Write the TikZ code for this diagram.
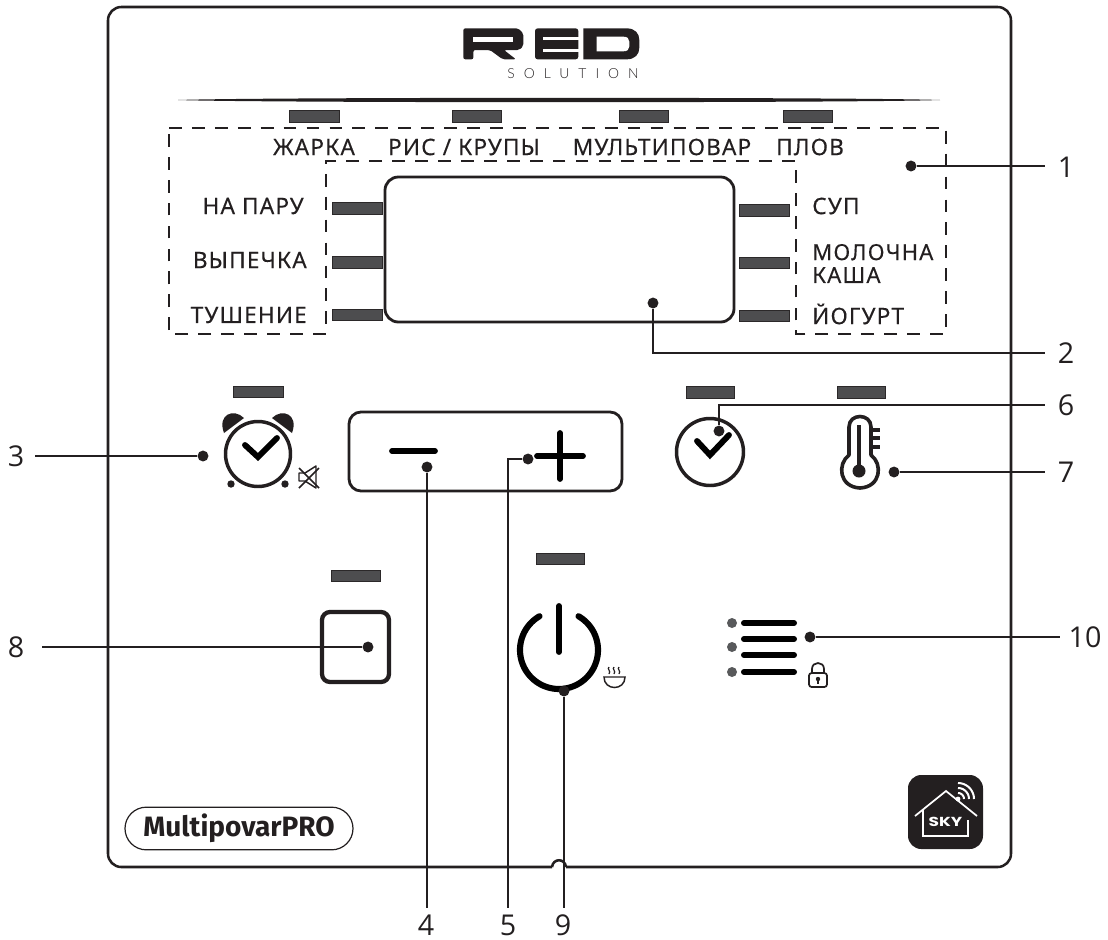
\documentclass[tikz,border=0pt]{standalone}
\usepackage{fontspec}
\setmainfont[LetterSpace=5,FakeBold=0.25]{Noto Sans}
\newfontfamily\numfont{Open Sans}
\newfontfamily\mpfont{Fira Sans}
\newfontfamily\skyfont{Poppins}
\newfontfamily\solfont[LetterSpace=65,UprightFont=* Light]{Lato}
\definecolor{ink}{HTML}{231F20}
\definecolor{led}{HTML}{4D4D4F}
\definecolor{greydot}{HTML}{58595B}
\tikzset{
  ledbar/.style={draw=ink!80!led,line width=0.4pt,fill=led},
  pt/.style={circle,fill=ink,inner sep=0pt,minimum size=8.2pt},
  lead/.style={draw=ink,line width=1pt},
  numlab/.style={font=\numfont\fontsize{21.5}{24}\selectfont,text=ink,inner sep=0pt},
  modelab/.style={font=\fontsize{17}{18}\selectfont,text=ink,inner sep=0pt},
  greyd/.style={circle,fill=greydot,inner sep=0pt,minimum size=7.5pt}
}
\begin{document}
\begin{tikzpicture}[x=0.75pt,y=-0.75pt]
\useasboundingbox (0,0) rectangle (1108,940);
% case with notch
\draw[ink,line width=1.9pt,rounded corners=10pt] (552,867) -- (108,867) -- (108,7) -- (1011,7) -- (1011,867) -- (566,867);
\draw[ink,line width=1.9pt] (566,867) .. controls (565,858) and (553,858) .. (552,867);
% logo
\begin{scope}[shift={(440,10)},x=0.25pt,y=-0.25pt]
\fill[ink,rounded corners=1.5pt] (70,55) -- (235,55) -- (250,70) -- (250,108) -- (238,120) -- (192,120) -- (228,148) -- (188,148) -- (150,120) -- (100,120) -- (100,148) -- (70,148) -- cycle;
\fill[white] (100,80) rectangle (220,96);
\fill[ink,rounded corners=2pt] (285,55) -- (415,55) -- (415,148) -- (285,148) -- cycle;
\fill[white] (310,80) rectangle (416,91);
\fill[white] (310,116) rectangle (416,125);
\fill[ink] (430,55) -- (560,55) .. controls (585,55) and (598,70) .. (598,90) -- (598,113) .. controls (598,133) and (585,148) .. (560,148) -- (430,148) -- cycle;
\fill[white] (470,80) -- (550,80) .. controls (562,80) and (568,86) .. (568,95) -- (568,109) .. controls (568,118) and (562,124) .. (550,124) -- (470,124) -- cycle;
\end{scope}
\node[font=\solfont\fontsize{10.4}{12}\selectfont,text=ink,inner sep=0pt] (solution) at (573,74) {SOLUTION};
\fill[ink] (178,100) .. controls (260,97.1) and (860,97.1) .. (940,100) .. controls (860,102.9) and (260,102.9) .. (178,100) -- cycle;
% dashed frame
\draw[ink,line width=1.8pt,dash pattern=on 9.6pt off 7.6pt] (169,128) -- (946,128) -- (946,334) -- (796,334) -- (796,161) -- (326,161) -- (326,334) -- (169,334) -- cycle;
% leds
\foreach \a/\b/\c/\d in {289/110/339/122,452/110/501/122,619/110/668/122,783/110/832/122,
  332/202/382/214,332/256/382/268,332/309/382/320,739/204/789/216,739/257/789/268,739/310/789/321,
  233/386/283/397,686/386/734/398,837/386/885/398,331/570/380/581,536/553/584/564}
  \draw[ledbar] (\a,\b) rectangle (\c,\d);
% screen
\draw[ink,line width=2.1pt,rounded corners=10pt] (385,177) rectangle (734,322);
% mode labels
\node[modelab] (m1) at (314,147) {ЖАРКА};
\node[modelab] (m2) at (464,147) {РИС / КРУПЫ};
\node[modelab] (m3) at (662,147) {МУЛЬТИПОВАР};
\node[modelab] (m4) at (810,147) {ПЛОВ};
\node[modelab,anchor=east] (m5) at (304,206) {НА ПАРУ};
\node[modelab,anchor=east] (m6) at (307,260) {ВЫПЕЧКА};
\node[modelab,anchor=east] (m7) at (307,315) {ТУШЕНИЕ};
\node[modelab,anchor=west] (m8) at (812,206) {СУП};
\node[modelab,anchor=west,align=left,font=\fontsize{16.6}{17.2}\selectfont] (m9) at (812,263.5) {МОЛОЧНА\\КАША};
\node[modelab,anchor=west] (m10) at (812,314) {ЙОГУРТ};
% alarm clock
\draw[ink,line width=2.6pt] (258,454) circle [radius=32.5];
\draw[black,line width=4.4pt,line cap=round,line join=miter] (245,445) -- (258,457) -- (277,438);
\fill[ink] (224,433) .. controls (217,414) and (234,408) .. (244,418) -- cycle;
\fill[ink] (292,433) .. controls (299,414) and (282,408) .. (272,418) -- cycle;
\fill[ink] (231,484) circle [radius=3.7];
\fill[ink] (285,484) circle [radius=3.7];
\draw[ink,line width=1.1pt,line join=round] (299,473) -- (305,473) -- (316,466) -- (316,488) -- (305,481) -- (299,481) -- cycle;
\draw[ink,line width=1.1pt] (299,468) -- (319,488) (299,488) -- (319,468);
% minus plus
\draw[ink,line width=2.1pt,rounded corners=9pt] (349,412) rectangle (622,491);
\draw[black,line width=4.3pt,line cap=round] (392,451) -- (435,451);
\draw[black,line width=4.3pt,line cap=round] (537,456) -- (583,456) (560,433) -- (560,479);
% clock
\draw[ink,line width=2.6pt] (710,452) circle [radius=33.5];
\draw[black,line width=4.4pt,line cap=round] (697,441) -- (710,455) -- (729,435);
% thermometer
\draw[ink,line width=2.7pt,line join=round] (849,455) -- (849,427) .. controls (849,413) and (871,413) .. (871,427) -- (871,455)
  .. controls (883,464) and (881,487) .. (860,488) .. controls (839,487) and (837,464) .. (849,455) -- cycle;
\draw[ink,line width=2.6pt] (859,425) -- (859,470);
\fill[ink] (859,471) circle [radius=6.5];
\draw[ink,line width=2.6pt] (871,430) -- (880,430) (871,438) -- (880,438) (871,447) -- (880,447);
% stop square
\draw[ink,line width=3.2pt,rounded corners=6pt] (322,612) rectangle (389,682);
% power
\draw[black,line width=4.6pt,line cap=round] plot[domain=-60:240,samples=80] ({559+39*cos(\x)},{650+39*sin(\x)});
\draw[black,line width=4.4pt,line cap=round] (559,606) -- (559,652);
% keep warm icon
\draw[ink,line width=1.1pt] (604,677) -- (625,677) .. controls (625,691) and (604,691) .. (604,677) -- cycle;
\foreach \s in {609,614,619}
  \draw[ink,line width=0.9pt] (\s,667) .. controls (\s-2.5,669) and (\s+2.5,671) .. (\s,674);
% menu
\foreach \y in {623,639,655,672}
  \draw[black,line width=4.5pt,line cap=round] (744,\y) -- (794,\y);
\node[greyd] (g1) at (732,623) {};
\node[greyd] (g2) at (732,647) {};
\node[greyd] (g3) at (732,672) {};
% lock
\draw[ink,line width=1.3pt,rounded corners=2pt] (809,673) rectangle (827,687);
\draw[ink,line width=1.3pt] (812,673) -- (812,669) .. controls (812,661) and (824,661) .. (824,669) -- (824,673);
\fill[ink] (818,679) circle [radius=2.2];
\draw[ink,line width=1.3pt] (818,679) -- (818,684);
% model badge
\node[draw=ink,line width=0.9pt,rounded corners=16pt,minimum width=171pt,minimum height=32pt,inner sep=0pt,font=\mpfont\bfseries\fontsize{21}{22}\selectfont,text=ink] (model) at (239,828.5) {MultipovarPRO};
% sky
\fill[ink,rounded corners=10pt] (908,775) rectangle (983,849);
\draw[white,line width=1.3pt] (915,816) -- (946,791) -- (977,816);
\draw[white,line width=1.3pt] (923,810) -- (923,836) -- (968,836) -- (968,820);
\node[font=\skyfont\bfseries\fontsize{9.8}{11}\selectfont,text=white,inner sep=0pt,xscale=1.3] (sky) at (945.5,822) {SKY};
\fill[white] (958,799) circle [radius=2.4];
\foreach \r in {6,11,16}
  \draw[white,line width=1.5pt] plot[domain=-90:0,samples=16] ({958+\r*cos(\x)},{799+\r*sin(\x)});
% callouts
\node[pt] (d1) at (911,166) {};
\node[pt] (d2) at (653,303) {};
\node[pt] (d3) at (203,456) {};
\node[pt] (d4) at (427,467) {};
\node[pt] (d5) at (528,459) {};
\node[pt] (d6) at (719,431) {};
\node[pt] (d7) at (894,472) {};
\node[pt] (d8) at (368,647) {};
\node[pt] (d9) at (564,691) {};
\node[pt] (d10) at (810,637) {};
\node[numlab] (n1) at (1066,167) {1};
\node[numlab] (n2) at (1066,353) {2};
\node[numlab] (n3) at (16,456) {3};
\node[numlab] (n4) at (426,925) {4};
\node[numlab] (n5) at (508,925) {5};
\node[numlab] (n6) at (1066,405) {6};
\node[numlab] (n7) at (1066,472) {7};
\node[numlab] (n8) at (16,647) {8};
\node[numlab] (n9) at (563,925) {9};
\node[numlab] (n10) at (1085,637) {10};
\coordinate (e1) at (1045,166);
\coordinate (e2) at (1045,353);
\coordinate (e3) at (35,456);
\coordinate (e4) at (427,908);
\coordinate (e5) at (508,908);
\coordinate (e6) at (1045,405);
\coordinate (e7) at (1045,472);
\coordinate (e8) at (42,647);
\coordinate (e9) at (564,908);
\coordinate (e10) at (1060,637);
\draw[lead] (d1) -- (e1);
\draw[lead] (d2) |- (e2);
\draw[lead] (d3) -- (e3);
\draw[lead] (d4) -- (e4);
\draw[lead] (d5) -| (e5);
\draw[lead] (d6) |- (e6);
\draw[lead] (d7) -- (e7);
\draw[lead] (d8) -- (e8);
\draw[lead] (d9) -- (e9);
\draw[lead] (d10) -- (e10);
\end{tikzpicture}
\end{document}
